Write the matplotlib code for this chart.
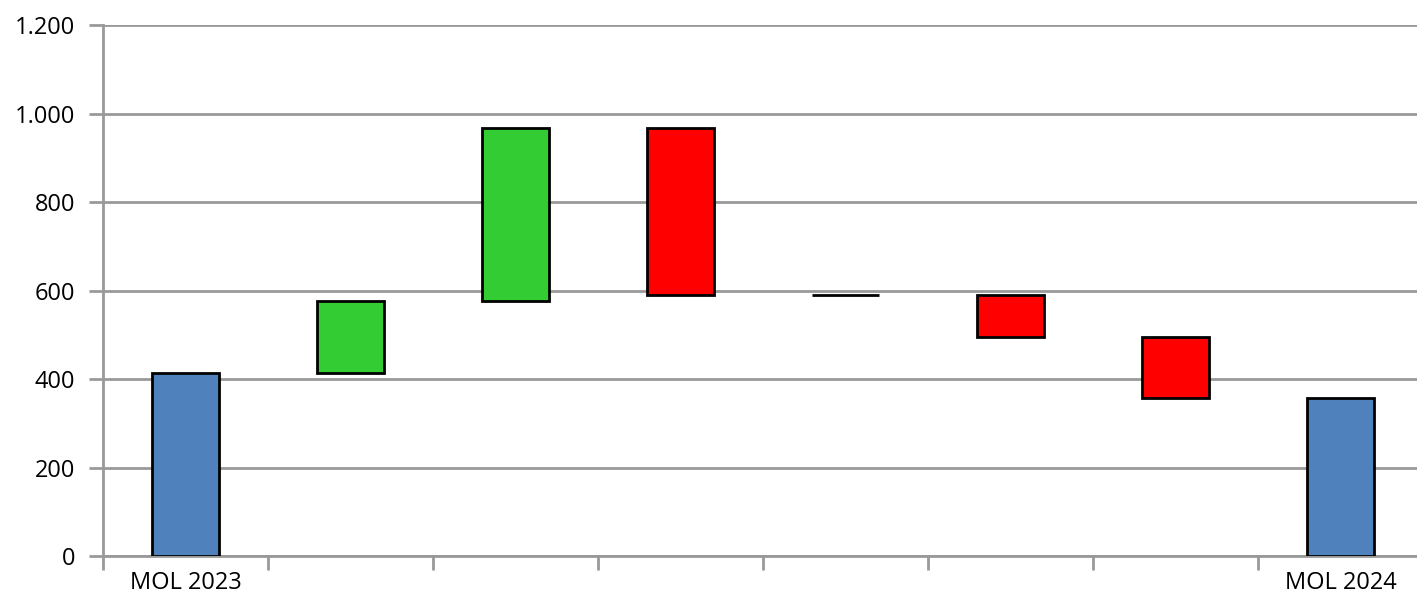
import numpy as np
import matplotlib.pyplot as plt
from matplotlib.ticker import FuncFormatter

categories = ['MOL 2023', '', '', '', '', '', '', 'MOL 2024']
start_value = 414
changes = [162, 391, -377, -1, -94, -139]
end_value = 357

colors_total = '#4F81BD'
color_up = '#33CC33'
color_down = '#FF0000'

# waterfall bottoms / heights
bottoms = [0]
heights = [start_value]
level = start_value
bar_colors = [colors_total]
for c in changes:
    if c >= 0:
        bottoms.append(level)
        heights.append(c)
        bar_colors.append(color_up)
    else:
        bottoms.append(level + c)
        heights.append(-c)
        bar_colors.append(color_down)
    level += c
bottoms.append(0)
heights.append(end_value)
bar_colors.append(colors_total)

plt.rcParams['font.family'] = ['Open Sans', 'DejaVu Sans']
fig = plt.figure(figsize=(14.17, 6.02), dpi=100)
ax = fig.add_axes([103 / 1417, 1 - 556 / 602, (1423 - 103) / 1417, (556 - 25) / 602])

x = np.arange(len(categories))
ax.bar(x, heights, bottom=bottoms, width=0.41, color=bar_colors,
       edgecolor='black', linewidth=2, zorder=3)

ax.set_ylim(0, 1200)
ax.set_xlim(-0.5, 7.5)
ax.set_yticks(range(0, 1201, 200))
ax.yaxis.set_major_formatter(FuncFormatter(lambda v, p: f'{int(v):,}'.replace(',', '.')))
ax.grid(axis='y', color='#999999', linewidth=2, zorder=0)

ax.set_xticks(x)
ax.set_xticklabels(categories)
ax.set_xticks(np.arange(-0.5, 8, 1), minor=True)
ax.tick_params(axis='x', which='major', length=0, pad=11, labelsize=17)
ax.tick_params(axis='x', which='minor', length=10, width=2, color='#999999')
ax.tick_params(axis='y', length=10, width=2, color='#999999', labelsize=17, pad=10)

for s in ['top', 'right']:
    ax.spines[s].set_visible(False)
for s in ['left', 'bottom']:
    ax.spines[s].set_color('#999999')
    ax.spines[s].set_linewidth(2)

fig.savefig('out.png', dpi=100)
